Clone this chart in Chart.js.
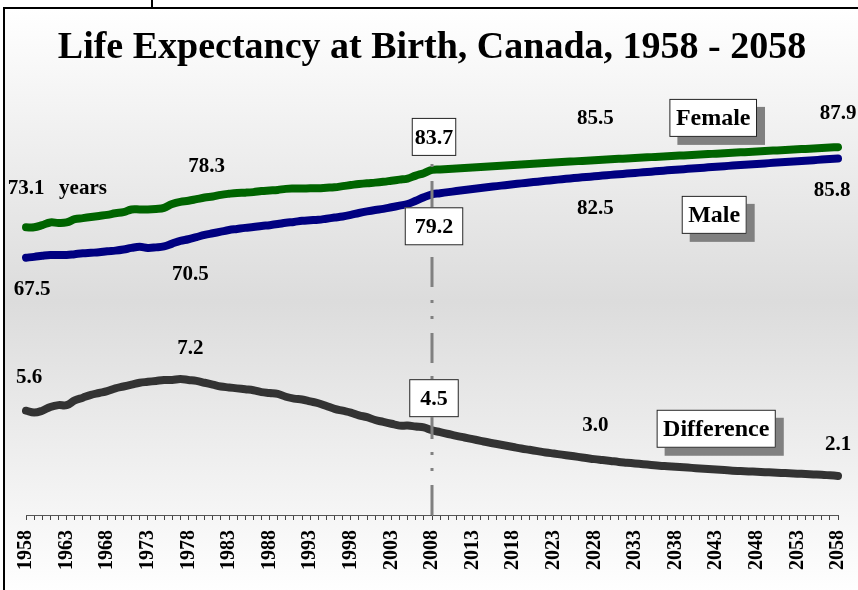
<!DOCTYPE html>
<html lang="en">
<head>
    <meta charset="UTF-8">
    <title>Life Expectancy at Birth, Canada, 1958 - 2058</title>
    <script src="https://cdn.jsdelivr.net/npm/chart.js"></script>
    <style>
        html, body { margin: 0; padding: 0; overflow: hidden; background: #fff; }
        #frame {
            position: absolute; left: 3px; top: 7px; width: 870px; height: 585px;
            border-top: 2px solid #000; border-left: 2px solid #000;
            background: linear-gradient(to bottom, #ffffff 0%, #dcdcdc 50%, #ffffff 100%);
        }
        #notch { position: absolute; left: 151px; top: 0; width: 2px; height: 8px; background: #000; }
        #lifeChart { position: absolute; left: 0; top: 0; }
    </style>
</head>
<body>
    <div id="frame"></div>
    <div id="notch"></div>
    <canvas id="lifeChart" width="858" height="590"></canvas>

    <script>
        // ---- data ----
        const firstYear = 1958;
        const lastYear = 2058;
        const years = [];
        for (let y = firstYear; y <= lastYear; y++) years.push(String(y));

        // female life expectancy, 1958 - 2058
        const femaleValues = [
            73.1, 73.1, 73.5, 74.0, 73.9, 74.0, 74.6, 74.8, 75.0, 75.2,
            75.4, 75.7, 75.9, 76.4, 76.4, 76.4, 76.5, 76.7, 77.4, 77.8,
            78.0, 78.3, 78.6, 78.8, 79.1, 79.3, 79.45, 79.5, 79.6, 79.8,
            79.9, 80.0, 80.2, 80.25, 80.25, 80.3, 80.3, 80.4, 80.5, 80.7,
            80.9, 81.1, 81.25, 81.35, 81.5, 81.7, 81.9, 82.1, 82.65, 83.1,
            83.7,
            83.79, 83.88, 83.97, 84.06, 84.15, 84.24, 84.33, 84.42, 84.51, 84.60,
            84.69, 84.78, 84.87, 84.96, 85.05, 85.14, 85.23, 85.32, 85.41, 85.50,
            85.58, 85.66, 85.74, 85.82, 85.90, 85.98, 86.06, 86.14, 86.22, 86.30,
            86.38, 86.46, 86.54, 86.62, 86.70, 86.78, 86.86, 86.94, 87.02, 87.10,
            87.18, 87.26, 87.34, 87.42, 87.50, 87.58, 87.66, 87.74, 87.82, 87.90
        ];

        // male life expectancy, 1958 - 2058
        const maleValues = [
            67.5, 67.65, 67.85, 68.0, 68.0, 68.0, 68.15, 68.3, 68.4, 68.5,
            68.7, 68.8, 69.0, 69.3, 69.5, 69.3, 69.4, 69.6, 70.1, 70.6,
            70.9, 71.3, 71.7, 72.0, 72.3, 72.6, 72.8, 73.0, 73.15, 73.35,
            73.5, 73.7, 73.95, 74.1, 74.3, 74.4, 74.5, 74.7, 74.9, 75.1,
            75.4, 75.75, 76.05, 76.3, 76.5, 76.8, 77.1, 77.4, 78.0, 78.65,
            79.2,
            79.40, 79.60, 79.79, 79.98, 80.17, 80.35, 80.53, 80.71, 80.88, 81.05,
            81.21, 81.37, 81.53, 81.68, 81.83, 81.98, 82.12, 82.26, 82.39, 82.52,
            82.65, 82.78, 82.90, 83.02, 83.14, 83.26, 83.38, 83.50, 83.62, 83.73,
            83.84, 83.95, 84.06, 84.17, 84.28, 84.39, 84.50, 84.60, 84.70, 84.80,
            84.90, 85.00, 85.10, 85.20, 85.30, 85.40, 85.50, 85.60, 85.70, 85.80
        ];

        // female minus male, plotted on its own axis
        const differenceValues = [
            5.6, 5.5, 5.6, 5.8, 5.9, 5.9, 6.15, 6.3, 6.45, 6.55,
            6.65, 6.8, 6.9, 7.0, 7.1, 7.15, 7.2, 7.25, 7.25, 7.3,
            7.25, 7.2, 7.1, 7.0, 6.9, 6.85, 6.8, 6.75, 6.7, 6.6,
            6.55, 6.5, 6.35, 6.25, 6.2, 6.1, 6.0, 5.85, 5.7, 5.6,
            5.5, 5.35, 5.25, 5.1, 5.0, 4.9, 4.8, 4.8, 4.75, 4.7,
            4.55,
            4.45, 4.35, 4.25, 4.16, 4.07, 3.98, 3.89, 3.81, 3.73, 3.65,
            3.57, 3.50, 3.43, 3.36, 3.30, 3.24, 3.18, 3.12, 3.06, 3.00,
            2.95, 2.90, 2.85, 2.81, 2.77, 2.73, 2.69, 2.65, 2.62, 2.59,
            2.56, 2.53, 2.50, 2.47, 2.44, 2.41, 2.38, 2.36, 2.34, 2.32,
            2.30, 2.28, 2.26, 2.24, 2.22, 2.20, 2.18, 2.16, 2.13, 2.10
        ];

        const baseYear = "2008";   // last observed year, marked by the dash-dot line

        // value labels: [text, year, value, axis]
        const valueLabels = [
            ["73.1", "1958", 73.1, "y"], ["78.3", "1980", 78.3, "y"],
            ["67.5", "1958", 67.5, "y"], ["70.5", "1978", 70.5, "y"],
            ["85.5", "2028", 85.5, "y"], ["82.5", "2028", 82.5, "y"],
            ["87.9", "2058", 87.9, "y"], ["85.8", "2058", 85.8, "y"],
            ["5.6", "1958", 5.6, "y2"], ["7.2", "1978", 7.2, "y2"],
            ["3.0", "2028", 3.0, "y2"], ["2.1", "2058", 2.1, "y2"]
        ];
        const boxedLabels = [
            ["83.7", "2008", 83.7, "y"], ["79.2", "2008", 79.2, "y"], ["4.5", "2008", 4.5, "y2"]
        ];
        const seriesNames = [
            ["Female", "2043", 93.3, "y"], ["Male", "2043", 75.4, "y"], ["Difference", "2043", 4.63, "y2"]
        ];

        // ---- styling ----
        const serif = "'Liberation Serif', 'Times New Roman', serif";
        const labelOffsets = {   // [dx, dy] in px from the anchor
            "73.1": [0, -39], "78.3": [2, -33], "67.5": [6, 32], "70.5": [2, 33],
            "85.5": [1, -42], "82.5": [1, 32], "87.9": [0, -34], "85.8": [-6, 32],
            "5.6": [3, -33], "7.2": [2, -32], "3.0": [1, -34], "2.1": [0, -31]
        };
        const boxOffsets = { "83.7": [2, -33, 3], "79.2": [2, 32, 10], "4.5": [2, -33, 11] };
        const nameOffsets = { "Female": -3, "Male": -2, "Difference": 0 };

        const annotations = {
            id: "annotations",
            afterDatasetsDraw(chart) {
                const ctx = chart.ctx;
                const xs = chart.scales.x;
                const px = year => xs.getPixelForValue(years.indexOf(year));
                const py = (v, axis) => chart.scales[axis].getPixelForValue(v);

                // dash-dot line at the base year
                const lx = px(baseYear);
                ctx.save();
                ctx.strokeStyle = "#808080";
                ctx.lineWidth = 3;
                ctx.setLineDash([30, 14, 3, 13, 3, 13]);
                ctx.beginPath();
                ctx.moveTo(lx, py(20, "y"));
                ctx.lineTo(lx, py(87.6, "y"));
                ctx.stroke();
                ctx.restore();

                ctx.save();
                ctx.textAlign = "center";
                ctx.textBaseline = "middle";
                ctx.fillStyle = "#000";

                // plain numbers
                ctx.font = "bold 21px " + serif;
                valueLabels.forEach(([t, yr, v, ax]) => {
                    const o = labelOffsets[t];
                    ctx.fillText(t, px(yr) + o[0], py(v, ax) + o[1]);
                });
                const o731 = labelOffsets["73.1"];
                ctx.fillText("years", px("1958") + 57, py(73.1, "y") + o731[1]);

                // boxed numbers
                ctx.font = "bold 22px " + serif;
                boxedLabels.forEach(([t, yr, v, ax]) => {
                    const o = boxOffsets[t];
                    const cx = px(yr) + o[0], cy = py(v, ax) + o[1];
                    const w = ctx.measureText(t).width + 2 * o[2], h = 38;
                    ctx.fillStyle = "#fff";
                    ctx.fillRect(cx - w / 2, cy - h / 2, w, h);
                    ctx.strokeStyle = "#222";
                    ctx.lineWidth = 1;
                    ctx.strokeRect(cx - w / 2 + 0.5, cy - h / 2 + 0.5, w - 1, h - 1);
                    ctx.fillStyle = "#000";
                    ctx.fillText(t, cx, cy + 1);
                });

                // series names with drop shadow
                ctx.font = "bold 24px " + serif;
                seriesNames.forEach(([t, yr, v, ax]) => {
                    const cx = px(yr) + nameOffsets[t], cy = py(v, ax);
                    const w = ctx.measureText(t).width + 13, h = 38;
                    ctx.fillStyle = "#808080";
                    ctx.fillRect(cx - w / 2 + 8, cy - h / 2 + 8, w, h);
                    ctx.fillStyle = "#fff";
                    ctx.fillRect(cx - w / 2, cy - h / 2, w, h);
                    ctx.strokeStyle = "#222";
                    ctx.lineWidth = 1;
                    ctx.strokeRect(cx - w / 2 + 0.5, cy - h / 2 + 0.5, w - 1, h - 1);
                    ctx.fillStyle = "#000";
                    ctx.fillText(t, cx, cy + 1);
                });
                ctx.restore();
            }
        };

        const lineStyle = { pointRadius: 0, borderWidth: 8, borderCapStyle: "round", borderJoinStyle: "round", tension: 0.4 };

        new Chart(document.getElementById("lifeChart"), {
            type: "line",
            data: {
                labels: years,
                datasets: [
                    Object.assign({ label: "Female", data: femaleValues, borderColor: "#006400", yAxisID: "y" }, lineStyle),
                    Object.assign({ label: "Male", data: maleValues, borderColor: "#000080", yAxisID: "y" }, lineStyle),
                    Object.assign({ label: "Difference", data: differenceValues, borderColor: "#333333", yAxisID: "y2" }, lineStyle)
                ]
            },
            options: {
                responsive: false,
                animation: false,
                devicePixelRatio: 1,
                layout: { padding: { left: 26, right: 20, top: 8, bottom: 10 } },
                plugins: {
                    legend: { display: false },
                    tooltip: { enabled: false },
                    title: {
                        display: true,
                        text: "Life Expectancy at Birth, Canada, 1958 - 2058",
                        color: "#000",
                        font: { family: serif, size: 38, weight: "bold", lineHeight: 1.2 },
                        padding: { top: 17, bottom: 11 }
                    }
                },
                scales: {
                    x: {
                        afterFit(scale) { scale.paddingLeft = 0; scale.paddingRight = 0; },
                        grid: { drawOnChartArea: false, drawTicks: true, tickLength: 5, color: "#444" },
                        border: { display: true, color: "#555", width: 1 },
                        ticks: {
                            autoSkip: false, maxRotation: 90, minRotation: 90, padding: 10,
                            color: "#000",
                            font: { family: serif, size: 20, weight: "bold" },
                            callback: function (val, i) { return i % 5 === 0 ? this.getLabelForValue(val) : ""; }
                        }
                    },
                    y: { display: false, min: 20, max: 100 },
                    y2: { display: false, min: 0, max: 23.27 }
                }
            },
            plugins: [annotations]
        });
    </script>
</body>
</html>
